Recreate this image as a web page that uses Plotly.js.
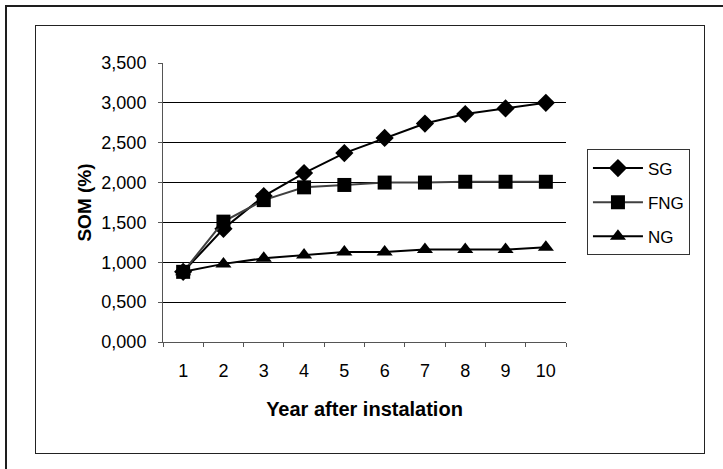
<!DOCTYPE html>
<html>
<head>
<meta charset="utf-8">
<script src="https://cdn.plot.ly/plotly-3.0.1.min.js"></script>
<style>
  html, body { margin: 0; padding: 0; background: #ffffff; }
  body { width: 723px; height: 469px; position: relative; overflow: hidden; }
  #outer { position: absolute; left: 5px; top: 5px; width: 800px; height: 600px;
           border-left: 2px solid #1e1e1e; border-top: 2px solid #1e1e1e; }
  #inner { position: absolute; left: 35px; top: 25px; width: 668px; height: 427px;
           border: 1.5px solid #222; }
  #chart { position: absolute; left: 0; top: 0; width: 723px; height: 469px; }
</style>
</head>
<body>
<div id="outer"></div>
<div id="inner"></div>
<div id="chart"></div>
<script>
// ---- data ----
const years = ['1', '2', '3', '4', '5', '6', '7', '8', '9', '10'];
const sgValues  = [0.88, 1.42, 1.83, 2.12, 2.37, 2.56, 2.74, 2.86, 2.93, 3.00];
const fngValues = [0.88, 1.51, 1.78, 1.94, 1.97, 2.00, 2.00, 2.01, 2.01, 2.01];
const ngValues  = [0.88, 0.98, 1.05, 1.09, 1.13, 1.13, 1.16, 1.16, 1.16, 1.19];
const yTickVals = [0, 0.5, 1.0, 1.5, 2.0, 2.5, 3.0, 3.5];
const yTickText = ['0,000', '0,500', '1,000', '1,500', '2,000', '2,500', '3,000', '3,500'];
const seriesNames = ['SG', 'FNG', 'NG'];

const font = 'Liberation Sans, Arial, sans-serif';

const traces = [
  { x: years, y: sgValues, name: seriesNames[0], legendgroup: 'a', type: 'scatter', mode: 'lines+markers',
    line: { color: '#000000', width: 2 },
    marker: { symbol: 'diamond', size: 14, color: '#000000' } },
  { x: years, y: fngValues, name: seriesNames[1], legendgroup: 'b', type: 'scatter', mode: 'lines+markers',
    line: { color: '#404040', width: 2 },
    marker: { symbol: 'square', size: 14, color: '#000000' } },
  { x: years, y: ngValues, name: seriesNames[2], legendgroup: 'c', type: 'scatter', mode: 'lines+markers',
    line: { color: '#000000', width: 2 },
    marker: { symbol: 'triangle-up', size: 14, color: '#000000' } }
];

const layout = {
  width: 723, height: 469,
  paper_bgcolor: 'rgba(0,0,0,0)',
  plot_bgcolor: 'rgba(0,0,0,0)',
  margin: { l: 163, r: 157, t: 63, b: 127 },
  font: { family: font, size: 18, color: '#000000' },
  showlegend: true,
  legend: {
    x: 1.052, xanchor: 'left', y: 0.69, yanchor: 'top',
    bordercolor: '#333333', borderwidth: 1,
    bgcolor: 'rgba(0,0,0,0)',
    font: { family: font, size: 17, color: '#000000' },
    tracegroupgap: 9,
    itemwidth: 50
  },
  xaxis: {
    type: 'category',
    categoryorder: 'array', categoryarray: years,
    range: [-0.5, 9.5],
    tickvals: years, ticktext: years,
    tickson: 'boundaries',
    ticks: 'outside', ticklen: 4, tickcolor: '#555555', tickwidth: 1,
    showline: true, linecolor: '#555555', linewidth: 1,
    showgrid: false, zeroline: false,
    tickfont: { family: font, size: 18 },
    ticklabelstandoff: 12,
    title: { text: '<b>Year after instalation</b>', font: { family: font, size: 20 }, standoff: 22 },
    fixedrange: true
  },
  yaxis: {
    range: [0, 3.5],
    tickvals: yTickVals, ticktext: yTickText,
    ticks: 'outside', ticklen: 4, tickcolor: '#555555', tickwidth: 1,
    showline: true, linecolor: '#555555', linewidth: 1,
    showgrid: true, gridcolor: '#000000', gridwidth: 1,
    zeroline: false,
    tickfont: { family: font, size: 18 },
    ticklabelstandoff: 8,
    title: { text: '<b>SOM (%)</b>', font: { family: font, size: 19 }, standoff: 4 },
    fixedrange: true
  }
};

Plotly.newPlot('chart', traces, layout, { staticPlot: true, displayModeBar: false });
</script>
</body>
</html>
